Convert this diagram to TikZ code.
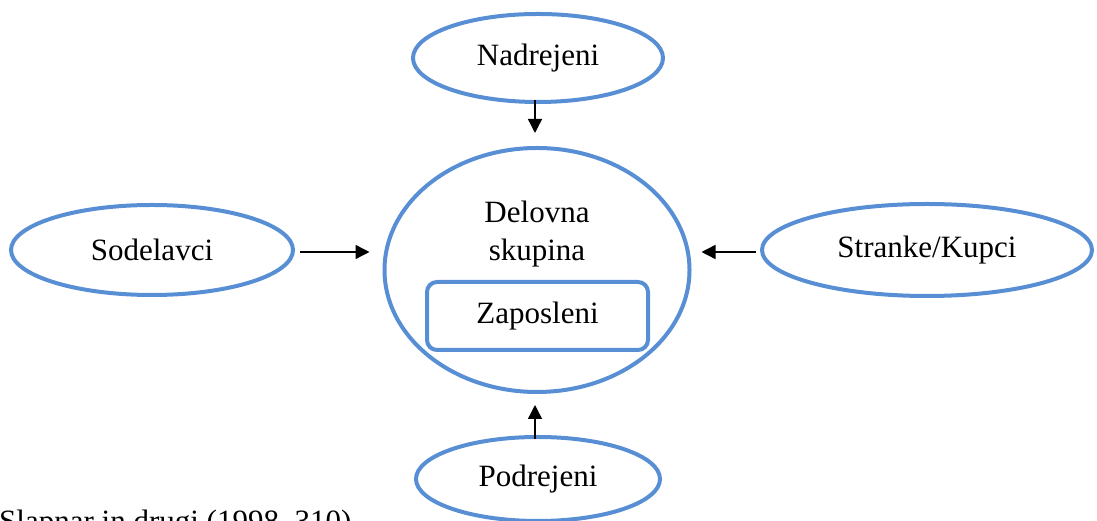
\documentclass[tikz,border=0pt]{standalone}
\usepackage{fontspec}
\setmainfont{Liberation Serif}
\usetikzlibrary{shapes.geometric,arrows.meta}
\definecolor{eblue}{RGB}{88,142,212}
\tikzset{
  oval/.style={ellipse, draw=eblue, line width=4pt, inner sep=0pt, font=\fontsize{31}{38}\selectfont},
  arr/.style={draw=black, line width=1.4pt, -{Triangle[length=14pt,width=14pt]}},
}
\begin{document}
\begin{tikzpicture}[x=1pt,y=1pt]
\useasboundingbox (0,0) rectangle (1097,521);
\node[oval, minimum width=250pt, minimum height=88pt] (nad) at (538,463) {Nadrejeni};
\node[oval, minimum width=305pt, minimum height=244pt] (del) at (537,251) {};
\node[font=\fontsize{31}{38}\selectfont, align=center] (dtxt) at (537,287) {Delovna\\skupina};
\node[draw=eblue, line width=4pt, rounded corners=10pt, minimum width=221pt, minimum height=68pt, font=\fontsize{31}{38}\selectfont] (zap) at (537.5,205) {Zaposleni};
\node[oval, minimum width=282pt, minimum height=90pt] (sod) at (152,271) {Sodelavci};
\node[oval, minimum width=330pt, minimum height=92pt] (str) at (927,271) {Stranke/Kupci};
\node[oval, minimum width=244pt, minimum height=84pt] (pod) at (538,42) {Podrejeni};
\node[anchor=base west, inner sep=0pt, font=\fontsize{31}{38}\selectfont] (src) at (-1,-11) {Slapnar in drugi (1998, 310)};
\draw[arr, shorten <=-4pt, shorten >=13pt] ([xshift=-3pt]nad.south) -- ([xshift=-2pt]del.north);
\draw[arr, shorten <=-4pt, shorten >=11pt] ([xshift=-3pt]pod.north) -- ([xshift=-2pt]del.south);
\draw[arr, shorten <=5pt, shorten >=13pt] ([yshift=-2pt]sod.east) -- ([yshift=-2pt]sod.east -| del.west);
\draw[arr, shorten <=4pt, shorten >=10pt] ([yshift=-2pt]str.west) -- ([yshift=-2pt]str.west -| del.east);
\end{tikzpicture}
\end{document}
